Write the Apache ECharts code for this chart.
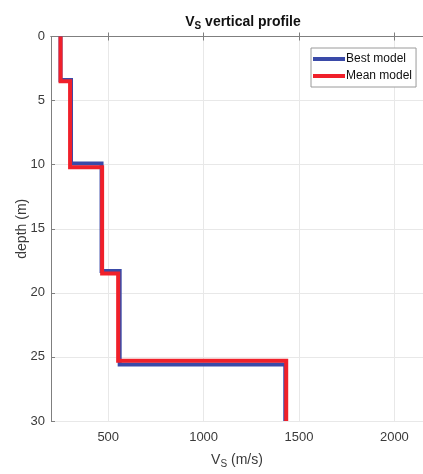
<!DOCTYPE html>
<html><head><meta charset="utf-8">
<script src="https://cdn.jsdelivr.net/npm/echarts@6/dist/echarts.min.js"></script>
<style>html,body{margin:0;padding:0;background:#fff}#c{width:423px;height:474px}</style>
</head><body><div id="c"></div>
<script>
// Layer velocities (m/s) and layer bottom depths (m)
const bestVs = [250, 305, 465, 560, 1428];
const bestBottom = [3.4, 9.9, 18.3, 25.6, 30];
const meanVs = [250, 300, 468, 552, 1433];
const meanBottom = [3.5, 10.2, 18.5, 25.3, 30];
const xTicks = [500, 1000, 1500, 2000];
const yTicks = [0, 5, 10, 15, 20, 25, 30];

function stepProfile(vs, bottoms) {
  const pts = [];
  let top = 0;
  for (let i = 0; i < vs.length; i++) {
    pts.push([vs[i], top]);
    pts.push([vs[i], bottoms[i]]);
    top = bottoms[i];
  }
  return pts;
}

const font = '"Liberation Sans", Arial, sans-serif';
const axisCol = '#7f7f7f';
const txtCol = '#3a3a3a';
const chart = echarts.init(document.getElementById('c'));
chart.setOption({
  animation: false,
  title: {
    text: '{a|V}{s|S}{a| vertical profile}',
    left: 238, top: 8, textAlign: 'center',
    textStyle: {
      rich: {
        a: {fontFamily: font, fontSize: 14, fontWeight: 'bold', color: '#111'},
        s: {fontFamily: font, fontSize: 10, fontWeight: 'bold', color: '#111', verticalAlign: 'bottom', padding: [8, 0, 0, 0]}
      }
    }
  },
  grid: {left: 51, top: 36.5, width: 374.4, height: 385.5, containLabel: false},
  legend: {
    orient: 'vertical', left: 311, top: 48,
    padding: [5, 4, 5, 2], itemGap: 5,
    itemWidth: 32, itemHeight: 4, icon: 'rect',
    backgroundColor: '#fff', borderColor: '#9a9a9a', borderWidth: 1, borderRadius: 0,
    textStyle: {fontFamily: font, fontSize: 12, color: '#111', padding: [0, 0, 0, -4]},
    data: ['Best model', 'Mean model']
  },
  xAxis: [{
    type: 'value', position: 'bottom', min: 200, max: 2150,
    name: '{a|V}{s|S}{a| (m/s)}', nameLocation: 'middle', nameGap: 30, nameMoveOverlap: false,
    nameTextStyle: {rich: {
      a: {fontFamily: font, fontSize: 14, color: txtCol},
      s: {fontFamily: font, fontSize: 10, color: txtCol, verticalAlign: 'bottom', padding: [8, 0, 0, 0]}
    }},
    axisLine: {show: true, lineStyle: {color: axisCol, width: 1}},
    axisTick: {show: true, inside: true, length: 4, customValues: xTicks, lineStyle: {color: axisCol}},
    axisLabel: {customValues: xTicks, margin: 10, fontFamily: font, fontSize: 13, color: txtCol,
      formatter: v => String(v)},
    splitLine: {show: true, lineStyle: {color: '#e8e8e8', width: 1}}
  }, {
    type: 'value', position: 'top', min: 200, max: 2150,
    axisLine: {show: true, onZero: false, lineStyle: {color: axisCol, width: 1}},
    axisTick: {show: true, inside: true, length: 4, customValues: xTicks, lineStyle: {color: axisCol}},
    axisLabel: {show: false},
    splitLine: {show: false}
  }],
  yAxis: {
    type: 'value', inverse: true, min: 0, max: 30, interval: 5,
    name: 'depth (m)', nameLocation: 'middle', nameGap: 22, nameRotate: 90, nameMoveOverlap: false,
    nameTextStyle: {fontFamily: font, fontSize: 14, color: txtCol},
    axisLine: {show: true, onZero: false, lineStyle: {color: axisCol, width: 1}},
    axisTick: {show: true, inside: true, length: 4, lineStyle: {color: axisCol}},
    axisLabel: {margin: 6, fontFamily: font, fontSize: 13, color: txtCol},
    splitLine: {show: true, lineStyle: {color: '#e8e8e8', width: 1}}
  },
  series: [{
    name: 'Best model', type: 'line', xAxisIndex: 0, showSymbol: false, symbol: 'none',
    data: stepProfile(bestVs, bestBottom),
    lineStyle: {color: '#3a4aa8', width: 4, join: 'miter'}, itemStyle: {color: '#3a4aa8'}
  }, {
    name: 'Mean model', type: 'line', xAxisIndex: 0, showSymbol: false, symbol: 'none',
    data: stepProfile(meanVs, meanBottom),
    lineStyle: {color: '#f0202a', width: 4, join: 'miter'}, itemStyle: {color: '#f0202a'}
  }]
});
</script></body></html>
